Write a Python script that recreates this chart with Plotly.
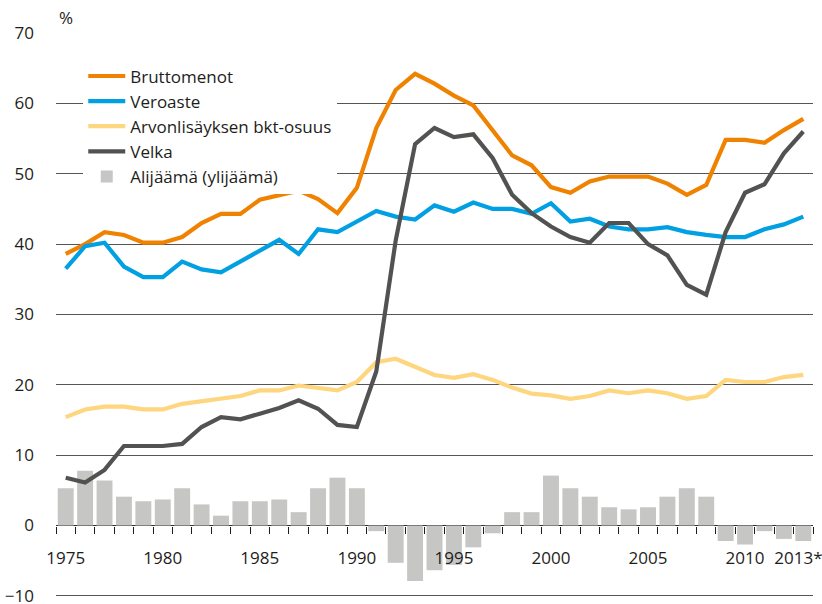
import plotly.graph_objects as go

years = list(range(1975, 2014))

bruttomenot = [38.6, 40.0, 41.7, 41.3, 40.2, 40.2, 41.0, 43.0, 44.3, 44.3,
               46.3, 47.0, 47.6, 46.4, 44.4, 48.0, 56.5, 61.9, 64.2, 62.8,
               61.1, 59.7, 56.2, 52.6, 51.2, 48.1, 47.3, 48.9, 49.6, 49.6,
               49.6, 48.6, 47.0, 48.4, 54.8, 54.8, 54.4, 56.2, 57.8]

veroaste = [36.5, 39.7, 40.2, 36.8, 35.3, 35.3, 37.5, 36.4, 36.0, 37.5,
            39.0, 40.6, 38.6, 42.1, 41.7, 43.2, 44.7, 43.9, 43.5, 45.5,
            44.6, 45.9, 45.0, 45.0, 44.3, 45.8, 43.2, 43.6, 42.5, 42.1,
            42.1, 42.4, 41.7, 41.3, 41.0, 41.0, 42.1, 42.8, 43.9]

arvonlisays = [15.4, 16.5, 16.9, 16.9, 16.5, 16.5, 17.3, 17.7, 18.0, 18.4,
               19.2, 19.2, 19.9, 19.6, 19.2, 20.4, 23.2, 23.7, 22.5, 21.4,
               21.0, 21.5, 20.7, 19.6, 18.75, 18.5, 18.0, 18.4, 19.2, 18.8,
               19.2, 18.8, 18.0, 18.4, 20.7, 20.4, 20.4, 21.1, 21.4]

velka = [6.8, 6.1, 7.9, 11.3, 11.3, 11.3, 11.6, 14.0, 15.4, 15.1,
         15.9, 16.7, 17.8, 16.6, 14.3, 14.0, 21.9, 40.5, 54.2, 56.5,
         55.2, 55.6, 52.2, 47.0, 44.4, 42.5, 41.0, 40.2, 43.0, 43.0,
         40.0, 38.4, 34.2, 32.8, 41.7, 47.3, 48.5, 52.9, 56.0]

alijaama = [5.3, 7.8, 6.4, 4.1, 3.45, 3.7, 5.3, 3.0, 1.4, 3.45,
            3.45, 3.7, 1.9, 5.3, 6.8, 5.3, -0.8, -5.3, -7.9, -6.35,
            -5.6, -3.1, -1.1, 1.9, 1.9, 7.1, 5.3, 4.1, 2.6, 2.3,
            2.6, 4.1, 5.3, 4.1, -2.2, -2.7, -0.8, -1.9, -2.2]

tick_years = [1975, 1980, 1985, 1990, 1995, 2000, 2005, 2010, 2012.75]
tick_labels = ["1975", "1980", "1985", "1990", "1995", "2000", "2005", "2010", "2013*"]
y_ticks = [-10, 0, 10, 20, 30, 40, 50, 60, 70]
y_labels = ["\u221210", "0", "10", "20", "30", "40", "50", "60", "70"]

boundaries = [y - 0.5 for y in years] + [years[-1] + 0.5]

FONT = "Open Sans"
TXT = "#1d1d1b"
GRID = "#555555"
FS = 17

Y_MIN, Y_MAX = -10.3, 70.0
zero_frac = (0 - Y_MIN) / (Y_MAX - Y_MIN)

fig = go.Figure()

line_specs = [
    ("Bruttomenot", bruttomenot, "#ef8200"),
    ("Veroaste", veroaste, "#00a0e2"),
    ("Arvonlisäyksen bkt-osuus", arvonlisays, "#fed67f"),
    ("Velka", velka, "#525251"),
]
for name, vals, col in line_specs:
    fig.add_trace(go.Scatter(x=years, y=vals, name=name, mode="lines",
                             line=dict(color=col, width=4.2)))

fig.add_trace(go.Bar(x=years, y=alijaama, name="Alijäämä (ylijäämä)",
                     marker=dict(color="#c6c6c5", line=dict(width=0)),
                     width=0.82))

# invisible trace to carry the boundary tick axis
fig.add_trace(go.Scatter(x=[years[0]], y=[0], xaxis="x2", mode="markers",
                         marker=dict(opacity=0), showlegend=False, hoverinfo="skip"))

fig.update_layout(
    width=822, height=604,
    margin=dict(l=56, r=9, t=33, b=6, autoexpand=False),
    paper_bgcolor="white", plot_bgcolor="white",
    font=dict(family=FONT, size=FS, color=TXT),
    showlegend=True,
    legend=dict(x=0.036, y=0.955, xanchor="left", yanchor="top",
                bgcolor="white", font=dict(size=FS, color=TXT),
                tracegroupgap=0, itemwidth=37),
    xaxis=dict(range=[1974.5, 2013.5], tickvals=tick_years, ticktext=tick_labels,
               showgrid=False, zeroline=False, showline=False, ticks="",
               anchor="free", position=zero_frac, ticklabelstandoff=20,
               ticklabeloverflow="allow",
               automargin=False, tickfont=dict(size=FS, color=TXT)),
    xaxis2=dict(range=[1974.5, 2013.5], overlaying="x", tickvals=boundaries,
                showticklabels=False, ticks="outside", ticklen=7, tickwidth=1,
                tickcolor="#1d1d1b", showgrid=False, zeroline=False, showline=False,
                anchor="free", position=zero_frac, side="bottom", automargin=False),
    yaxis=dict(range=[Y_MIN, Y_MAX], tickvals=y_ticks, ticktext=y_labels,
               showgrid=True, gridcolor=GRID, gridwidth=1.2,
               zeroline=True, zerolinecolor="#333333", zerolinewidth=1.2,
               showline=False, ticks="", ticklabelstandoff=21, automargin=False,
               ticklabeloverflow="allow",
               tickfont=dict(size=FS, color=TXT), domain=[0, 1]),
    bargap=0.18,
    annotations=[dict(text="%", xref="paper", yref="paper", x=0.013, y=1.027,
                      xanchor="center", yanchor="middle", showarrow=False,
                      font=dict(size=FS, color=TXT))],
)

fig.write_html("out.html", config={"displayModeBar": False},
               post_script="document.body.style.margin='0';document.body.style.overflow='hidden';")
